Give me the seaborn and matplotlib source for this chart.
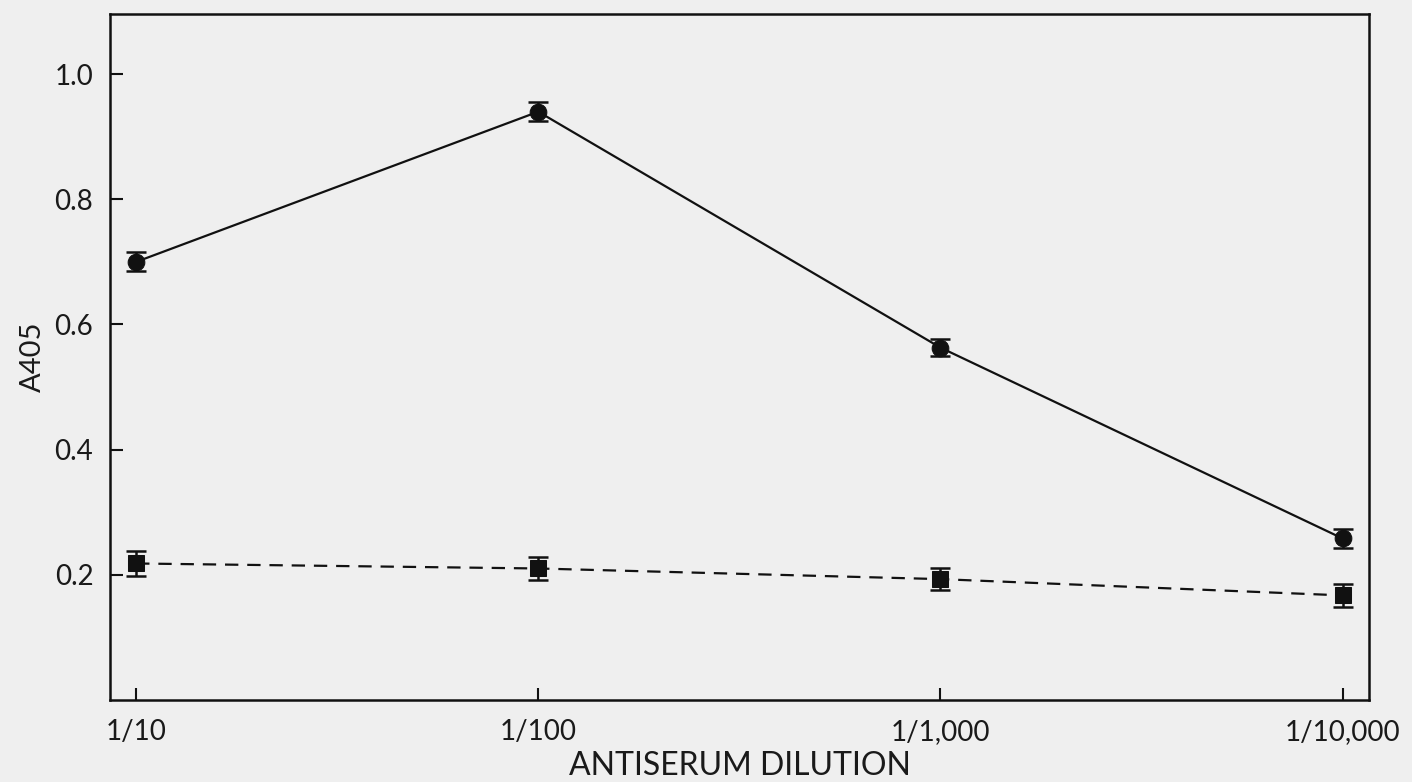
import numpy as np
import pandas as pd
import matplotlib
matplotlib.use("Agg")
import matplotlib.pyplot as plt
import seaborn as sns

# values
dilutions = ["1/10", "1/100", "1/1,000", "1/10,000"]
circle_mean = [0.700, 0.940, 0.563, 0.258]
circle_err = [0.015, 0.015, 0.014, 0.015]
square_mean = [0.218, 0.210, 0.193, 0.167]
square_err = [0.020, 0.019, 0.018, 0.019]
ytick_vals = [0.2, 0.4, 0.6, 0.8, 1.0]

sns.set_style("white")
plt.rcParams['font.family'] = ['Lato', 'DejaVu Sans']
bg = "#efefef"

df = pd.DataFrame({
    "pos": list(range(len(dilutions))) * 2,
    "A405": circle_mean + square_mean,
    "err": circle_err + square_err,
    "series": ["circle"] * 4 + ["square"] * 4,
})

fig = plt.figure(figsize=(14.12, 7.82), dpi=100, facecolor=bg)
ax = fig.add_axes([0.0779, 0.105, 0.892, 0.877])
ax.set_facecolor(bg)

sns.lineplot(data=df, x="pos", y="A405", hue="series", style="series",
             markers={"circle": "o", "square": "s"},
             dashes={"circle": "", "square": (6, 4)},
             palette={"circle": "#111111", "square": "#111111"},
             markersize=12, linewidth=1.6, legend=False, ax=ax,
             markeredgecolor="#111111")

for name, g in df.groupby("series"):
    ax.errorbar(g["pos"], g["A405"], yerr=g["err"], fmt="none",
                ecolor="#111111", elinewidth=1.8, capsize=7, capthick=1.8)

ax.set_xlim(-0.065, 3.067)
ax.set_ylim(0, 1.096)
ax.set_xticks(range(len(dilutions)))
ax.set_xticklabels(dilutions)
ax.set_yticks(ytick_vals)
ax.set_yticklabels([f"{v:.1f}" for v in ytick_vals])
ax.tick_params(direction="in", length=9, width=1.5, color="#111111",
               labelsize=20, labelcolor="#1a1a1a", pad=12,
               left=True, bottom=True)
ax.tick_params(axis="x", pad=14)

for s in ax.spines.values():
    s.set_linewidth(1.8)
    s.set_color("#111111")

ax.set_xlabel("ANTISERUM DILUTION", fontsize=23, color="#1a1a1a", labelpad=4)
ax.set_ylabel("A405", fontsize=21, color="#1a1a1a", labelpad=6)

fig.savefig("out.png", dpi=100, facecolor=bg)
